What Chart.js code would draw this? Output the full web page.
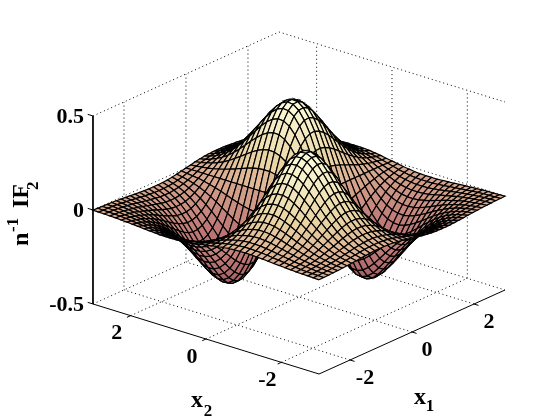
<!DOCTYPE html>
<html><head><meta charset="utf-8">
<style>html,body{margin:0;padding:0;background:#fff}canvas{display:block}</style>
<script src="https://cdn.jsdelivr.net/npm/chart.js@4"></script>
</head><body><canvas id="c" width="560" height="420"></canvas>
<script>
const x1Values=[-3,-2.85,-2.7,-2.55,-2.4,-2.25,-2.1,-1.95,-1.8,-1.65,-1.5,-1.35,-1.2,-1.05,-0.9,-0.75,-0.6,-0.45,-0.3,-0.15,0,0.15,0.3,0.45,0.6,0.75,0.9,1.05,1.2,1.35,1.5,1.65,1.8,1.95,2.1,2.25,2.4,2.55,2.7,2.85,3];
const x2Values=x1Values.slice();
const x1Ticks=[-2,0,2];
const x2Ticks=[-2,0,2];
const zTicks=[-0.5,0,0.5];
const x1TickLabels=['-2','0','2'];
const x2TickLabels=['-2','0','2'];
const zTickLabels=['-0.5','0','0.5'];
// surface height in thousandths, rows follow x2Values, columns follow x1Values
const zMilli=[
[1,2,3,4,5,7,9,11,13,16,18,20,22,22,22,21,19,15,11,5,0,-5,-11,-15,-19,-21,-22,-22,-22,-20,-18,-16,-13,-11,-9,-7,-5,-4,-3,-2,-1],
[2,3,4,5,7,10,13,16,20,23,27,30,32,33,33,31,28,22,16,8,0,-8,-16,-22,-28,-31,-33,-33,-32,-30,-27,-23,-20,-16,-13,-10,-7,-5,-4,-3,-2],
[3,4,5,8,11,14,18,23,28,33,38,42,46,47,47,44,39,32,23,12,0,-12,-23,-32,-39,-44,-47,-47,-46,-42,-38,-33,-28,-23,-18,-14,-11,-8,-5,-4,-3],
[4,5,8,11,15,20,25,32,39,46,53,60,64,66,66,62,55,45,32,16,0,-16,-32,-45,-55,-62,-66,-66,-64,-60,-53,-46,-39,-32,-25,-20,-15,-11,-8,-5,-4],
[5,7,11,15,20,27,35,44,53,63,73,81,88,91,90,85,75,61,43,22,0,-22,-43,-61,-75,-85,-90,-91,-88,-81,-73,-63,-53,-44,-35,-27,-20,-15,-11,-7,-5],
[7,10,14,20,27,36,46,58,71,84,97,108,117,121,120,113,100,81,57,30,0,-30,-57,-81,-100,-113,-120,-121,-117,-108,-97,-84,-71,-58,-46,-36,-27,-20,-14,-10,-7],
[9,13,18,25,35,46,60,75,92,109,126,140,151,157,155,147,130,105,74,38,0,-38,-74,-105,-130,-147,-155,-157,-151,-140,-126,-109,-92,-75,-60,-46,-35,-25,-18,-13,-9],
[11,16,23,32,44,58,75,95,116,138,158,176,190,197,195,184,163,132,93,48,0,-48,-93,-132,-163,-184,-195,-197,-190,-176,-158,-138,-116,-95,-75,-58,-44,-32,-23,-16,-11],
[13,20,28,39,53,71,92,116,141,168,193,215,232,240,238,225,199,162,114,59,0,-59,-114,-162,-199,-225,-238,-240,-232,-215,-193,-168,-141,-116,-92,-71,-53,-39,-28,-20,-13],
[16,23,33,46,63,84,109,138,168,200,230,256,276,286,283,267,236,192,135,70,0,-70,-135,-192,-236,-267,-283,-286,-276,-256,-230,-200,-168,-138,-109,-84,-63,-46,-33,-23,-16],
[18,27,38,53,73,97,126,158,193,230,264,295,317,328,326,307,272,221,156,81,0,-81,-156,-221,-272,-307,-326,-328,-317,-295,-264,-230,-193,-158,-126,-97,-73,-53,-38,-27,-18],
[20,30,42,60,81,108,140,176,215,256,295,328,354,366,363,343,303,246,174,90,0,-90,-174,-246,-303,-343,-363,-366,-354,-328,-295,-256,-215,-176,-140,-108,-81,-60,-42,-30,-20],
[22,32,46,64,88,117,151,190,232,276,317,354,381,394,391,369,326,265,187,97,0,-97,-187,-265,-326,-369,-391,-394,-381,-354,-317,-276,-232,-190,-151,-117,-88,-64,-46,-32,-22],
[22,33,47,66,91,121,157,197,240,286,328,366,394,408,405,382,338,275,194,100,0,-100,-194,-275,-338,-382,-405,-408,-394,-366,-328,-286,-240,-197,-157,-121,-91,-66,-47,-33,-22],
[22,33,47,66,90,120,155,195,238,283,326,363,391,405,402,379,335,273,192,100,0,-100,-192,-273,-335,-379,-402,-405,-391,-363,-326,-283,-238,-195,-155,-120,-90,-66,-47,-33,-22],
[21,31,44,62,85,113,147,184,225,267,307,343,369,382,379,358,316,257,181,94,0,-94,-181,-257,-316,-358,-379,-382,-369,-343,-307,-267,-225,-184,-147,-113,-85,-62,-44,-31,-21],
[19,28,39,55,75,100,130,163,199,236,272,303,326,338,335,316,280,228,160,83,0,-83,-160,-228,-280,-316,-335,-338,-326,-303,-272,-236,-199,-163,-130,-100,-75,-55,-39,-28,-19],
[15,22,32,45,61,81,105,132,162,192,221,246,265,275,273,257,228,185,130,67,0,-67,-130,-185,-228,-257,-273,-275,-265,-246,-221,-192,-162,-132,-105,-81,-61,-45,-32,-22,-15],
[11,16,23,32,43,57,74,93,114,135,156,174,187,194,192,181,160,130,92,48,0,-48,-92,-130,-160,-181,-192,-194,-187,-174,-156,-135,-114,-93,-74,-57,-43,-32,-23,-16,-11],
[5,8,12,16,22,30,38,48,59,70,81,90,97,100,100,94,83,67,48,25,0,-25,-48,-67,-83,-94,-100,-100,-97,-90,-81,-70,-59,-48,-38,-30,-22,-16,-12,-8,-5],
[0,0,0,0,0,0,0,0,0,0,0,0,0,0,0,0,0,0,0,0,0,0,0,0,0,0,0,0,0,0,0,0,0,0,0,0,0,0,0,0,0],
[-5,-8,-12,-16,-22,-30,-38,-48,-59,-70,-81,-90,-97,-100,-100,-94,-83,-67,-48,-25,0,25,48,67,83,94,100,100,97,90,81,70,59,48,38,30,22,16,12,8,5],
[-11,-16,-23,-32,-43,-57,-74,-93,-114,-135,-156,-174,-187,-194,-192,-181,-160,-130,-92,-48,0,48,92,130,160,181,192,194,187,174,156,135,114,93,74,57,43,32,23,16,11],
[-15,-22,-32,-45,-61,-81,-105,-132,-162,-192,-221,-246,-265,-275,-273,-257,-228,-185,-130,-67,0,67,130,185,228,257,273,275,265,246,221,192,162,132,105,81,61,45,32,22,15],
[-19,-28,-39,-55,-75,-100,-130,-163,-199,-236,-272,-303,-326,-338,-335,-316,-280,-228,-160,-83,0,83,160,228,280,316,335,338,326,303,272,236,199,163,130,100,75,55,39,28,19],
[-21,-31,-44,-62,-85,-113,-147,-184,-225,-267,-307,-343,-369,-382,-379,-358,-316,-257,-181,-94,0,94,181,257,316,358,379,382,369,343,307,267,225,184,147,113,85,62,44,31,21],
[-22,-33,-47,-66,-90,-120,-155,-195,-238,-283,-326,-363,-391,-405,-402,-379,-335,-273,-192,-100,0,100,192,273,335,379,402,405,391,363,326,283,238,195,155,120,90,66,47,33,22],
[-22,-33,-47,-66,-91,-121,-157,-197,-240,-286,-328,-366,-394,-408,-405,-382,-338,-275,-194,-100,0,100,194,275,338,382,405,408,394,366,328,286,240,197,157,121,91,66,47,33,22],
[-22,-32,-46,-64,-88,-117,-151,-190,-232,-276,-317,-354,-381,-394,-391,-369,-326,-265,-187,-97,0,97,187,265,326,369,391,394,381,354,317,276,232,190,151,117,88,64,46,32,22],
[-20,-30,-42,-60,-81,-108,-140,-176,-215,-256,-295,-328,-354,-366,-363,-343,-303,-246,-174,-90,0,90,174,246,303,343,363,366,354,328,295,256,215,176,140,108,81,60,42,30,20],
[-18,-27,-38,-53,-73,-97,-126,-158,-193,-230,-264,-295,-317,-328,-326,-307,-272,-221,-156,-81,0,81,156,221,272,307,326,328,317,295,264,230,193,158,126,97,73,53,38,27,18],
[-16,-23,-33,-46,-63,-84,-109,-138,-168,-200,-230,-256,-276,-286,-283,-267,-236,-192,-135,-70,0,70,135,192,236,267,283,286,276,256,230,200,168,138,109,84,63,46,33,23,16],
[-13,-20,-28,-39,-53,-71,-92,-116,-141,-168,-193,-215,-232,-240,-238,-225,-199,-162,-114,-59,0,59,114,162,199,225,238,240,232,215,193,168,141,116,92,71,53,39,28,20,13],
[-11,-16,-23,-32,-44,-58,-75,-95,-116,-138,-158,-176,-190,-197,-195,-184,-163,-132,-93,-48,0,48,93,132,163,184,195,197,190,176,158,138,116,95,75,58,44,32,23,16,11],
[-9,-13,-18,-25,-35,-46,-60,-75,-92,-109,-126,-140,-151,-157,-155,-147,-130,-105,-74,-38,0,38,74,105,130,147,155,157,151,140,126,109,92,75,60,46,35,25,18,13,9],
[-7,-10,-14,-20,-27,-36,-46,-58,-71,-84,-97,-108,-117,-121,-120,-113,-100,-81,-57,-30,0,30,57,81,100,113,120,121,117,108,97,84,71,58,46,36,27,20,14,10,7],
[-5,-7,-11,-15,-20,-27,-35,-44,-53,-63,-73,-81,-88,-91,-90,-85,-75,-61,-43,-22,0,22,43,61,75,85,90,91,88,81,73,63,53,44,35,27,20,15,11,7,5],
[-4,-5,-8,-11,-15,-20,-25,-32,-39,-46,-53,-60,-64,-66,-66,-62,-55,-45,-32,-16,0,16,32,45,55,62,66,66,64,60,53,46,39,32,25,20,15,11,8,5,4],
[-3,-4,-5,-8,-11,-14,-18,-23,-28,-33,-38,-42,-46,-47,-47,-44,-39,-32,-23,-12,0,12,23,32,39,44,47,47,46,42,38,33,28,23,18,14,11,8,5,4,3],
[-2,-3,-4,-5,-7,-10,-13,-16,-20,-23,-27,-30,-32,-33,-33,-31,-28,-22,-16,-8,0,8,16,22,28,31,33,33,32,30,27,23,20,16,13,10,7,5,4,3,2],
[-1,-2,-3,-4,-5,-7,-9,-11,-13,-16,-18,-20,-22,-22,-22,-21,-19,-15,-11,-5,0,5,11,15,19,21,22,22,22,20,18,16,13,11,9,7,5,4,3,2,1]
];

// fixed view of the 3-D box on the flat canvas scales
function project(a,b,z){
  return {x:319+31*(a+3)-37.67*(b+3), y:374-14*(a+3)-11.67*(b+3)-188*(z+0.5)};
}
const ramp=[[-0.41,160,92,98],[-0.2,190,120,118],[-0.05,208,155,135],[0,218,172,145],[0.15,235,215,165],[0.41,252,252,220]];
function colourAt(z){
  for(let k=1;k<ramp.length;k++){
    if(z<=ramp[k][0]||k===ramp.length-1){
      const p=ramp[k-1],q=ramp[k],t=Math.max(0,Math.min(1,(z-p[0])/(q[0]-p[0])));
      return 'rgb('+[1,2,3].map(c=>Math.round(p[c]+(q[c]-p[c])*t)).join(',')+')';
    }
  }
}
const datasets=[];
function addLine(points,width,dash){
  datasets.push({data:points,showLine:true,fill:false,borderColor:'#000',backgroundColor:'#000',
    borderWidth:width,borderDash:dash||[],pointRadius:0,tension:0});
}
// surface: nearest cell first, since the first dataset is painted last
for(let i=0;i<x1Values.length-1;i++){
  for(let j=0;j<x2Values.length-1;j++){
    const corners=[[i,j],[i+1,j],[i+1,j+1],[i,j+1],[i,j]];
    const mean=(zMilli[j][i]+zMilli[j][i+1]+zMilli[j+1][i]+zMilli[j+1][i+1])/4000;
    datasets.push({
      data:corners.map(c=>project(x1Values[c[0]],x2Values[c[1]],zMilli[c[1]][c[0]]/1000)),
      showLine:true,fill:'shape',backgroundColor:colourAt(mean),borderColor:'#000',
      borderWidth:1.2,pointRadius:0,tension:0
    });
  }
}
// solid axes and their ticks
addLine([project(-3,3,0.5),project(-3,3,-0.5),project(-3,-3,-0.5),project(3,-3,-0.5)],1);
zTicks.forEach(z=>addLine([project(-3,3,z),project(-3,3.14,z)],1));
x2Ticks.forEach(b=>addLine([project(-3,b,-0.5),project(-3.12,b,-0.5)],1));
x1Ticks.forEach(a=>addLine([project(a,-3,-0.5),project(a,-3.12,-0.5)],1));
// dotted grid on floor and back walls
const dots=[1,3];
x1Ticks.forEach(a=>{addLine([project(a,-3,-0.5),project(a,3,-0.5),project(a,3,0.5)],1,dots);});
x2Ticks.forEach(b=>{addLine([project(-3,b,-0.5),project(3,b,-0.5),project(3,b,0.5)],1,dots);});
zTicks.forEach(z=>{addLine([project(-3,3,z),project(3,3,z),project(3,-3,z)],1,dots);});

const textPlugin={id:'axisText',afterDatasetsDraw(chart){
  const c=chart.ctx,sx=chart.scales.x,sy=chart.scales.y;
  const px=(x,y)=>({x:sx.getPixelForValue(x),y:sy.getPixelForValue(y)});
  const serif=s=>'bold '+s+'px "Liberation Serif"';
  function put(t,p,size,align,dx,dy){
    c.font=serif(size);c.textAlign=align||'center';c.textBaseline='middle';
    c.fillText(t,p.x+(dx||0),p.y+(dy||0));
  }
  c.save();c.fillStyle='#000';
  zTicks.forEach((z,k)=>{const p=project(-3,3,z);put(zTickLabels[k],px(p.x,p.y),22,'right',-9,1);});
  x2Ticks.forEach((b,k)=>{const p=project(-3,b,-0.5);put(x2TickLabels[k],px(p.x,p.y),22,'center',-14,18);});
  x1Ticks.forEach((a,k)=>{const p=project(a,-3,-0.5);put(x1TickLabels[k],px(p.x,p.y),22,'center',15,18);});
  const x2Lab=px(197,401),x1Lab=px(420,398);
  put('x',x2Lab,24,'center');put('2',x2Lab,17,'center',11,11);
  put('x',x1Lab,24,'center');put('1',x1Lab,17,'center',10,9);
  // rotated z label
  const o=px(27.5,246);
  c.translate(o.x,o.y);c.rotate(-Math.PI/2);
  c.textAlign='left';c.textBaseline='alphabetic';
  c.font=serif(24);c.fillText('n',0,0);
  c.font=serif(17);c.fillText('-1',14,-10);
  c.font=serif(24);c.fillText('IF',38,0);
  c.font=serif(17);c.fillText('2',56,10);
  c.restore();
}};
new Chart(document.getElementById('c'),{
  type:'scatter',
  data:{datasets},
  options:{
    responsive:false,animation:false,events:[],
    layout:{padding:0},
    scales:{
      x:{type:'linear',display:false,min:0,max:560},
      y:{type:'linear',display:false,min:0,max:420,reverse:true}
    },
    plugins:{legend:{display:false},tooltip:{enabled:false},title:{display:false},
      filler:{drawTime:'beforeDatasetDraw',propagate:false}}
  },
  plugins:[textPlugin]
});
</script></body></html>
